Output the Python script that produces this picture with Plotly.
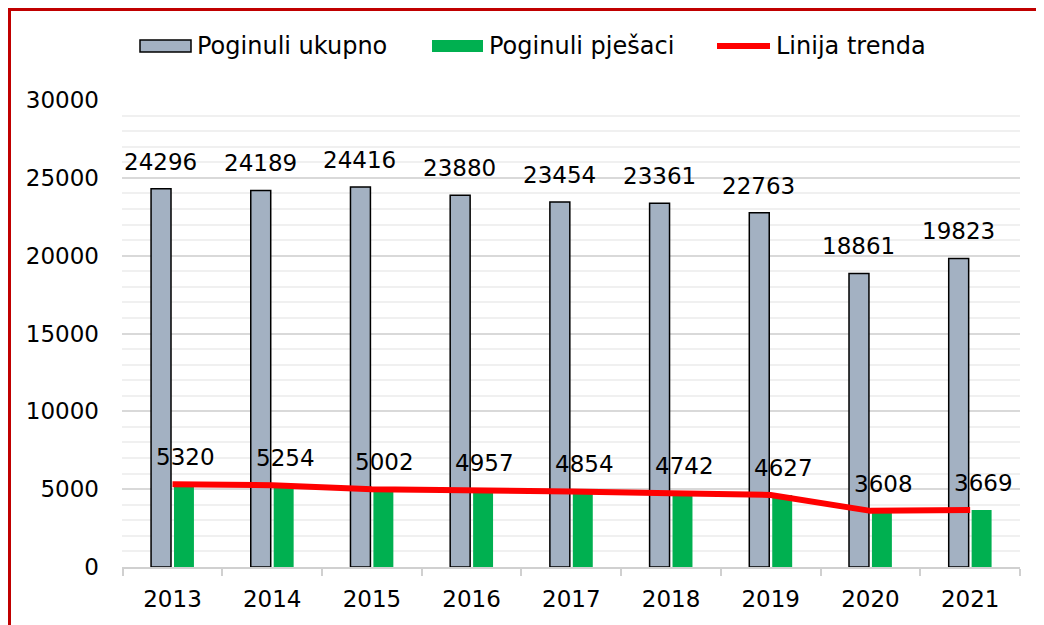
import plotly.graph_objects as go

years = ["2013", "2014", "2015", "2016", "2017", "2018", "2019", "2020", "2021"]
total_killed = [24296, 24189, 24416, 23880, 23454, 23361, 22763, 18861, 19823]
pedestrians_killed = [5320, 5254, 5002, 4957, 4854, 4742, 4627, 3608, 3669]
trend_values = [5320, 5254, 5002, 4957, 4854, 4742, 4627, 3608, 3669]
names = ["Poginuli ukupno", "Poginuli pješaci", "Linija trenda"]
y_ticks = [0, 5000, 10000, 15000, 20000, 25000, 30000]

GRAY = "#a3b1c2"
GREEN = "#00b050"
RED = "#ff0000"
FONT = "DejaVu Sans"
FS = 23
FS_LEG = 24

OFF = 8  # page body margin
W, H = 1044, 625
PL, PR, PT, PB = 122, 1020, 100, 567  # plot area in page pixels
L, T = PL - OFF, PT - OFF
R = W - (PR - OFF)
B = H - (PB - OFF)
PW, PH = PR - PL, PB - PT


def px2x(x):
    return (x - PL) / PW


def px2y(y):
    return (PB - y) / PH


fig = go.Figure()
fig.add_trace(go.Bar(x=years, y=total_killed, name=names[0], marker=dict(color=GRAY, line=dict(color="black", width=1.5)), showlegend=False))
fig.add_trace(go.Bar(x=years, y=pedestrians_killed, name=names[1], marker=dict(color=GREEN, line=dict(width=0)), showlegend=False))
fig.add_trace(go.Scatter(x=years, y=trend_values, name=names[2], mode="lines", line=dict(color=RED, width=6), showlegend=False))

annotations = []
for i, (a, b) in enumerate(zip(total_killed, pedestrians_killed)):
    annotations.append(dict(x=i, y=a, xref="x", yref="y", text=str(a), showarrow=False, xshift=-12, yanchor="bottom", yshift=12, font=dict(family=FONT, size=FS, color="black")))
    annotations.append(dict(x=i, y=b, xref="x", yref="y", text=str(b), showarrow=False, xshift=13, yanchor="bottom", yshift=12, font=dict(family=FONT, size=FS, color="black")))

# custom legend
leg_y = 46
shapes = [
    dict(type="rect", xref="paper", yref="paper", x0=px2x(140), x1=px2x(191), y0=px2y(52), y1=px2y(40), fillcolor=GRAY, line=dict(color="black", width=1.5)),
    dict(type="rect", xref="paper", yref="paper", x0=px2x(432), x1=px2x(483), y0=px2y(52), y1=px2y(40), fillcolor=GREEN, line=dict(width=0)),
    dict(type="line", xref="paper", yref="paper", x0=px2x(717), x1=px2x(770), y0=px2y(leg_y), y1=px2y(leg_y), line=dict(color=RED, width=6)),
    # page border
    dict(type="line", xref="paper", yref="paper", x0=px2x(9), x1=px2x(W + 20), y0=px2y(9.5), y1=px2y(9.5), line=dict(color="#c00000", width=3)),
    dict(type="line", xref="paper", yref="paper", x0=px2x(9.5), x1=px2x(9.5), y0=px2y(8), y1=px2y(H + 20), line=dict(color="#c00000", width=3)),
]
for xt, name in zip([195, 487, 774], names):
    annotations.append(dict(x=px2x(xt), y=px2y(leg_y), xref="paper", yref="paper", text=name, showarrow=False, xanchor="left", yanchor="middle", font=dict(family=FONT, size=FS_LEG, color="black")))

fig.update_layout(
    width=W, height=H,
    margin=dict(l=L, r=R, t=T, b=B),
    barmode="group", bargap=0.54, bargroupgap=0.13,
    plot_bgcolor="white", paper_bgcolor="white",
    font=dict(family=FONT, size=FS, color="black"),
    annotations=annotations, shapes=shapes,
    showlegend=False,
)
fig.update_xaxes(showline=True, linecolor="#d0d0d0", linewidth=2, ticks="outside", tickson="boundaries", ticklen=7, tickcolor="#d0d0d0", tickwidth=2, showgrid=False, ticklabelstandoff=10, tickfont=dict(family=FONT, size=FS))
fig.update_yaxes(range=[0, 30000], tickvals=y_ticks, tickformat="d", showline=False, gridcolor="#d9d9d9", gridwidth=2, zeroline=False, ticks="", ticklabelstandoff=22,
                 minor=dict(dtick=1000, showgrid=True, gridcolor="#f0f0f0", gridwidth=2), tickfont=dict(family=FONT, size=FS))

fig.write_html("out.html")
